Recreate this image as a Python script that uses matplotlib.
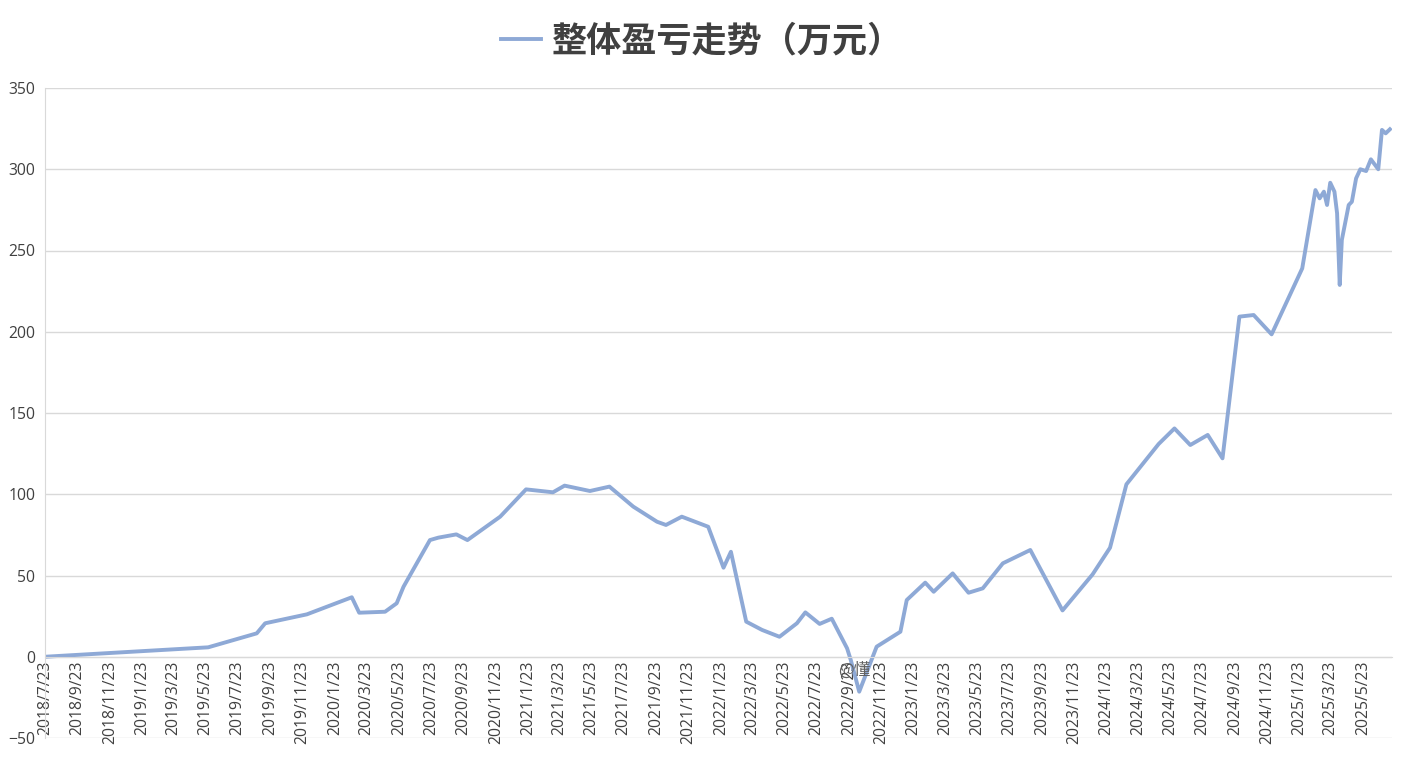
import matplotlib
matplotlib.use("Agg")
import matplotlib.pyplot as plt
import matplotlib.dates as mdates
import pandas as pd

# values (万元)
dates = [
    "2018-07-23", "2019-05-28", "2019-08-28", "2019-09-13", "2019-12-01",
    "2020-02-24", "2020-03-09", "2020-04-27", "2020-05-19", "2020-06-01",
    "2020-07-21", "2020-08-06", "2020-09-09", "2020-09-30", "2020-12-01",
    "2021-01-19", "2021-03-11", "2021-04-02", "2021-05-20", "2021-06-26",
    "2021-08-10", "2021-09-24", "2021-10-11", "2021-11-10", "2021-12-30",
    "2022-01-28", "2022-02-11", "2022-03-12", "2022-04-11", "2022-05-14",
    "2022-06-16", "2022-07-02", "2022-07-29", "2022-08-21", "2022-09-19",
    "2022-09-26", "2022-10-12", "2022-11-14", "2022-12-29", "2023-01-10",
    "2023-02-14", "2023-03-02", "2023-04-07", "2023-05-07", "2023-06-03",
    "2023-07-11", "2023-09-01", "2023-11-01", "2023-12-28", "2024-01-30",
    "2024-03-01", "2024-05-01", "2024-05-31", "2024-06-30", "2024-08-02",
    "2024-08-30", "2024-10-01", "2024-10-28", "2024-12-01", "2025-01-28",
    "2025-02-22", "2025-03-02", "2025-03-10", "2025-03-16", "2025-03-22",
    "2025-03-30", "2025-04-04", "2025-04-09", "2025-04-13", "2025-04-26",
    "2025-05-02", "2025-05-10", "2025-05-18", "2025-05-29", "2025-06-07",
    "2025-06-21", "2025-06-28", "2025-07-05", "2025-07-13",
]
pnl = [
    0.0, 5.8, 14.4, 20.6, 26.1,
    36.6, 27.1, 27.7, 32.9, 43.1,
    71.8, 73.3, 75.3, 71.8, 86.2,
    103.0, 101.2, 105.3, 102.0, 104.7,
    92.4, 83.1, 81.1, 86.2, 80.0,
    54.8, 64.6, 21.6, 16.5, 12.3,
    20.6, 27.3, 20.2, 23.4, 5.2,
    -2.0, -21.5, 6.2, 15.4, 34.9,
    45.6, 40.0, 51.3, 39.4, 42.1,
    57.5, 65.7, 28.5, 50.7, 67.1,
    106.1, 130.9, 140.5, 130.3, 136.5,
    122.1, 209.3, 210.3, 198.4, 239.0,
    287.2, 282.1, 286.2, 278.0, 291.7,
    286.2, 272.9, 228.8, 256.5, 278.0,
    280.0, 294.4, 300.0, 298.9, 306.1,
    300.0, 324.2, 322.1, 324.6,
]
series_name = "整体盈亏走势（万元）"
x_start, x_end = "2018-07-23", "2025-07-17"
y_ticks = [-50, 0, 50, 100, 150, 200, 250, 300, 350]

LINE_COLOR = "#8ea9d6"
TEXT_COLOR = "#404040"
GRID_COLOR = "#d9d9d9"

plt.rcParams["font.family"] = ["Open Sans", "Noto Sans CJK SC", "DejaVu Sans"]

x = pd.to_datetime(dates)

fig = plt.figure(figsize=(14.05, 7.68), dpi=100)
ax = fig.add_axes([45 / 1405, 1 - 738 / 768, (1392 - 45) / 1405, (738 - 88) / 768])

line, = ax.plot(x, pnl, color=LINE_COLOR, linewidth=2.8, solid_joinstyle="round")

ax.set_ylim(-50, 350)
ax.set_yticks(y_ticks)
ax.set_xlim(pd.Timestamp(x_start), pd.Timestamp(x_end))
ax.xaxis.set_major_locator(mdates.MonthLocator(bymonth=[1, 3, 5, 7, 9, 11], bymonthday=23))
ax.xaxis.set_major_formatter(plt.FuncFormatter(
    lambda v, pos: (lambda d: f"{d.year}/{d.month}/{d.day}")(mdates.num2date(v))))

ax.grid(axis="y", color=GRID_COLOR, linewidth=1)
ax.set_axisbelow(True)
for side in ("top", "right"):
    ax.spines[side].set_visible(False)
ax.spines["left"].set_color(GRID_COLOR)
ax.spines["bottom"].set_position(("data", 0))
ax.spines["bottom"].set_color(GRID_COLOR)

ax.tick_params(axis="y", length=0, pad=7, labelsize=11.3, labelcolor=TEXT_COLOR)
ax.tick_params(axis="x", length=0, pad=3, labelsize=11.3, labelcolor=TEXT_COLOR,
               labelrotation=90)

fig.legend([line], [series_name], loc="center", bbox_to_anchor=(0.4995, 0.947),
           frameon=False, handlelength=1.15, handletextpad=0.3,
           prop={"family": ["Noto Sans CJK SC"], "weight": "bold", "size": 25.3},
           labelcolor=TEXT_COLOR)

# watermark fragment visible in the reference
fig.text(838 / 1405, 1 - 670 / 768, "@懂", fontsize=12, color="#606060",
         va="center", ha="left", family=["Noto Sans CJK SC", "DejaVu Sans"])

fig.savefig("out.png", dpi=100)
